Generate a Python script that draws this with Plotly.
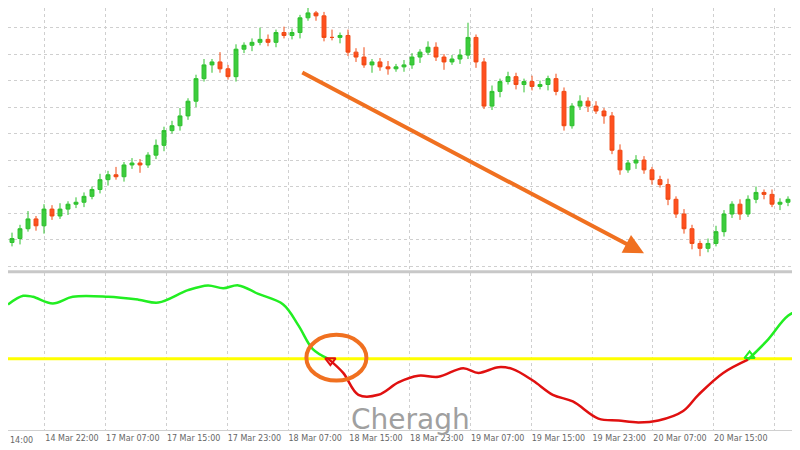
import plotly.graph_objects as go

# candle closes (pixel height converted to price)
close_px = [235, 225, 215, 222, 205, 212, 205, 200, 198, 192, 185, 175, 170, 172, 160, 158, 160, 150, 140, 125,
            120, 110, 95, 72, 58, 55, 62, 70, 42, 38, 35, 32, 35, 25, 28, 25, 10, 5, 8, 30,
            30, 28, 45, 50, 58, 55, 60, 62, 60, 58, 50, 45, 40, 50, 55, 52, 48, 30, 55, 100,
            85, 75, 70, 78, 75, 80, 78, 72, 85, 120, 100, 95, 100, 105, 110, 145, 165, 158, 155, 165,
            175, 180, 195, 210, 225, 240, 245, 240, 228, 210, 200, 210, 195, 188, 190, 200, 198, 195, 170, 162]
wick_up = [6, 4, 8, 3, 5, 4, 6, 3, 5, 4, 3, 6, 4, 8, 3, 5, 4, 3, 6, 4,
           5, 8, 3, 4, 6, 3, 10, 4, 5, 3, 4, 12, 5, 3, 6, 4, 3, 5, 2, 4,
           8, 3, 6, 4, 10, 3, 4, 6, 3, 5, 4, 3, 6, 5, 3, 4, 6, 15, 3, 4,
           6, 3, 5, 4, 3, 6, 4, 3, 5, 4, 3, 6, 4, 5, 3, 4, 6, 3, 5, 4,
           3, 4, 6, 3, 5, 4, 3, 5, 6, 4, 3, 5, 4, 6, 3, 5, 4, 3, 6, 8]
wick_dn = [4, 6, 3, 5, 8, 4, 3, 6, 4, 5, 3, 4, 6, 3, 5, 4, 8, 3, 4, 6,
           3, 5, 4, 6, 3, 8, 4, 3, 5, 4, 6, 3, 4, 5, 3, 4, 6, 3, 5, 4,
           3, 6, 4, 5, 3, 8, 4, 6, 3, 5, 4, 6, 3, 4, 8, 3, 5, 4, 6, 3,
           4, 6, 3, 5, 8, 4, 3, 6, 4, 5, 3, 4, 6, 3, 8, 4, 5, 3, 6, 4,
           5, 3, 6, 4, 5, 6, 8, 4, 3, 5, 4, 6, 3, 4, 5, 3, 6, 4, 3, 5]

# indicator line: (candle index, level) pieces
ind_green1_x = [-0.5, 1.4, 2.6, 5.1, 7.6, 12, 15.8, 18.3, 22, 24.5, 26.4, 28.3, 30.8, 33.9, 35.8, 37.6, 39.5]
ind_green1_y = [57, 66, 65, 58, 65, 65, 62, 59, 72, 77, 74, 77, 68, 57, 35, 10, 0]
ind_red_x = [39.5, 41.4, 43.3, 45.8, 48.3, 50.8, 53.3, 56.4, 58.3, 60.8, 62.6, 65.1, 67.6, 70.1, 73.3, 75.8, 78.3, 80.8, 83.9, 85.8, 88.9, 92]
ind_red_y = [0, -15, -38, -38, -25, -18, -19, -10, -15, -9, -11, -23, -38, -45, -63, -65, -67, -65, -55, -38, -15, -1]
ind_green2_x = [92, 94.5, 97, 99.5]
ind_green2_y = [-1, 20, 45, 55]

tick_pos = [4.1, 11.7, 19.3, 26.9, 34.5, 42.1, 49.7, 57.3, 64.9, 72.5, 80.1, 87.7, 95.3]
tick_text = ["14 Mar 22:00", "17 Mar 07:00", "17 Mar 15:00", "17 Mar 23:00", "18 Mar 07:00",
             "18 Mar 15:00", "18 Mar 23:00", "19 Mar 07:00", "19 Mar 15:00", "19 Mar 23:00", "20 Mar 07:00",
             "20 Mar 15:00", "20 Mar 23:00"]

price = [1.1 + (270 - p) / 1000 for p in close_px]
opens = [price[0] - 0.004] + price[:-1]
highs = [max(o, c) + w / 1000 for o, c, w in zip(opens, price, wick_up)]
lows = [min(o, c) - w / 1000 for o, c, w in zip(opens, price, wick_dn)]
idx = list(range(len(price)))

fig = go.Figure()
fig.add_trace(go.Candlestick(
    x=idx, open=opens, high=highs, low=lows, close=price,
    increasing=dict(line=dict(color="#2ec12e", width=1), fillcolor="#3dcc3d"),
    decreasing=dict(line=dict(color="#f04a14", width=1), fillcolor="#ff5020"),
    whiskerwidth=0, xaxis="x", yaxis="y2", showlegend=False))

fig.add_trace(go.Scatter(x=[-0.5, 99.5], y=[0, 0], mode="lines", line=dict(color="#ffff00", width=3),
                         xaxis="x", yaxis="y", showlegend=False))
fig.add_trace(go.Scatter(x=ind_green1_x, y=ind_green1_y, mode="lines", line=dict(color="#22ee22", width=2.5, shape="spline"),
                         xaxis="x", yaxis="y", showlegend=False))
fig.add_trace(go.Scatter(x=ind_red_x, y=ind_red_y, mode="lines", line=dict(color="#e01010", width=2.5, shape="spline"),
                         xaxis="x", yaxis="y", showlegend=False))
fig.add_trace(go.Scatter(x=ind_green2_x, y=ind_green2_y, mode="lines", line=dict(color="#22ee22", width=2.5, shape="spline"),
                         xaxis="x", yaxis="y", showlegend=False))
fig.add_trace(go.Scatter(x=[39.8, 92.2], y=[-2, 3], mode="markers",
                         marker=dict(symbol=["triangle-down-open", "triangle-up-open"], size=9,
                                     color=["#e01010", "#22ee22"], line=dict(width=2)),
                         xaxis="x", yaxis="y", showlegend=False))

grid = dict(showgrid=True, gridcolor="#cfcfcf", griddash="dot", zeroline=False)
fig.update_layout(
    width=800, height=450, margin=dict(l=0, r=0, t=0, b=28, autoexpand=False),
    plot_bgcolor="white", paper_bgcolor="white",
    font=dict(family="DejaVu Sans", color="#666", size=9),
    xaxis=dict(range=[-0.5, 99.5], tickvals=tick_pos, ticktext=tick_text, ticklabelposition="outside right",
               tickangle=0, automargin=False, rangeslider=dict(visible=False), ticks="", showline=True,
               linecolor="#d0d0d0", tickfont=dict(size=8, color="#666"), **grid),
    yaxis=dict(domain=[0, 0.372], range=[-75, 90], showticklabels=False, automargin=False, **grid, dtick=1000),
    yaxis2=dict(domain=[0.377, 1], range=[1.1 + (270 - 268) / 1000, 1.1 + 270 / 1000], anchor="x",
                showticklabels=False, automargin=False, dtick=0.027, **grid),
)

fig.add_shape(type="line", xref="paper", yref="paper", x0=0, x1=1, y0=0.375, y1=0.375,
              line=dict(color="#c8c8c8", width=3))
fig.add_annotation(x=79, y=1.1 + (270 - 250) / 1000, ax=36.1, ay=1.1 + (270 - 65) / 1000,
                   xref="x", yref="y2", axref="x", ayref="y2", text="", showarrow=True,
                   arrowhead=2, arrowsize=1, arrowwidth=4, arrowcolor="#f07020")
fig.add_shape(type="circle", xref="x", yref="y", x0=36.8, x1=44.3, y0=-23, y1=25,
              line=dict(color="#f07020", width=4))
fig.add_annotation(xref="paper", yref="paper", x=0.503, y=-0.02, text="Cheragh", showarrow=False,
                   font=dict(family="DejaVu Sans", size=28, color="#a0a0a0"), xanchor="center", yanchor="bottom")
fig.add_annotation(xref="paper", yref="paper", x=0, y=0, yshift=-4, text="14:00", showarrow=False,
                   font=dict(size=8, color="#666"), xanchor="left", yanchor="top")

fig.write_html("out.html")
